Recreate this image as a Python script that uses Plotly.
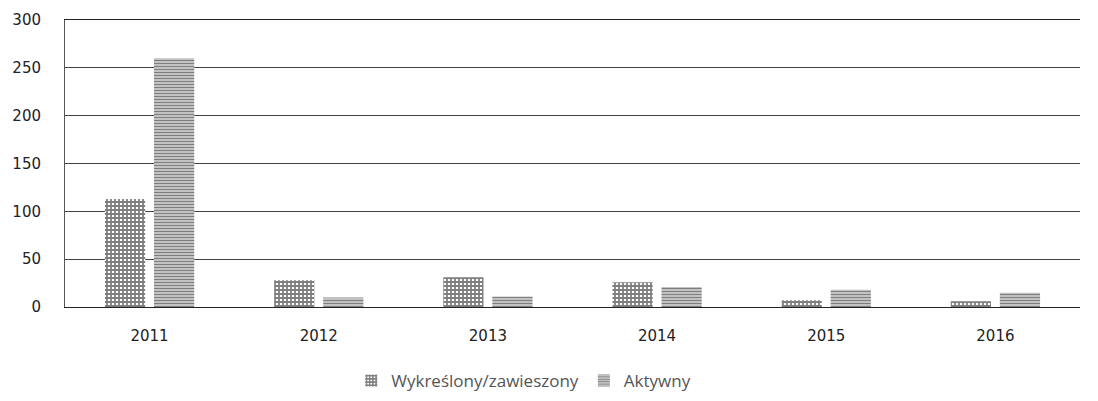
import plotly.graph_objects as go

years = ["2011", "2012", "2013", "2014", "2015", "2016"]
wykreslony = [113, 28, 31, 26, 7, 6]
aktywny = [260, 10, 11, 21, 18, 15]
y_ticks = [0, 50, 100, 150, 200, 250, 300]

fig = go.Figure()
fig.add_trace(
    go.Bar(
        x=years,
        y=wykreslony,
        name="Wykreślony/zawieszony",
        marker=dict(
            color="white",
            line=dict(width=0),
            pattern=dict(shape="+", size=4, solidity=0.7, fgcolor="#000", bgcolor="white"),
        ),
    )
)
fig.add_trace(
    go.Bar(
        x=years,
        y=aktywny,
        name="Aktywny",
        marker=dict(
            color="white",
            line=dict(width=0),
            pattern=dict(shape="-", size=3, solidity=0.65, fgcolor="#000", bgcolor="white"),
        ),
    )
)

# page body adds an 8px offset, margins compensate for it
fig.update_layout(
    width=1098,
    height=401,
    margin=dict(l=57, r=26, t=12, b=102),
    paper_bgcolor="white",
    plot_bgcolor="white",
    barmode="group",
    bargap=0.42,
    bargroupgap=0.18,
    font=dict(family="DejaVu Sans", color="#333"),
    legend=dict(
        orientation="h",
        x=0.452,
        xanchor="center",
        yref="container",
        y=0.07,
        yanchor="middle",
        font=dict(family="Open Sans", size=17, color="#555"),
        itemwidth=30,
    ),
    xaxis=dict(
        showline=True,
        mirror=True,
        linecolor="#222",
        linewidth=1,
        tickfont=dict(size=15, color="#222"),
        ticks="",
        ticklabelstandoff=15,
        automargin=False,
    ),
    yaxis=dict(
        range=[0, 300],
        tickvals=y_ticks,
        showgrid=True,
        gridcolor="#444",
        gridwidth=1,
        showline=True,
        linecolor="#555",
        linewidth=1,
        tickfont=dict(size=15, color="#222"),
        ticks="",
        ticklabelstandoff=20,
        zeroline=False,
        automargin=False,
    ),
)

fig.write_html("out.html")
